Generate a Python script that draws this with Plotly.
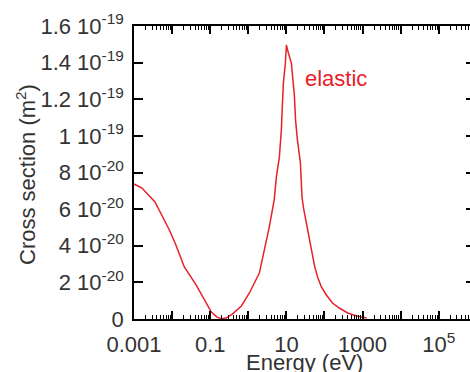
import plotly.graph_objects as go

# Data (energy in eV, cross section in 1e-20 m^2)
energy_eV = [0.001, 0.00162, 0.00355, 0.0083, 0.012, 0.0209, 0.0427, 0.0692, 0.107,
             0.151, 0.2, 0.263, 0.38, 0.66, 1.07, 1.95, 2.63, 3.55, 4.79, 5.46, 6.55,
             7.38, 7.85, 8.34, 9.42, 10.0, 11.3, 13.5, 16.2, 17.4, 19.5, 23.4, 24.5,
             25.7, 28.2, 55, 66, 83, 112, 162, 245, 407, 692, 1290]
sigma_1e20 = [7.37, 7.15, 6.39, 4.9, 4.15, 2.84, 1.86, 1.04, 0.38,
              0.1, 0.02, 0.05, 0.27, 0.71, 1.42, 2.51, 3.77, 5.02, 6.5, 7.75, 8.85,
              10.32, 11.68, 12.89, 13.98, 14.96, 14.52, 13.98, 12.23, 10.87, 9.77, 8.52, 7.59,
              6.66, 6.06, 2.89, 2.29, 1.75, 1.31, 0.87, 0.60, 0.33, 0.16, 0.05]
sigma = [s * 1e-20 for s in sigma_1e20]

x_tickvals = [1e-3, 1e-2, 1e-1, 1, 10, 100, 1e3, 1e4, 1e5, 1e6]
x_ticktext = ["0.001", "", "0.1", "", "10", "", "1000", "", "10<sup>5</sup>", ""]
y_tickvals = [0, 2e-20, 4e-20, 6e-20, 8e-20, 1e-19, 1.2e-19, 1.4e-19, 1.6e-19]
y_ticktext = ["0", "2 10<sup>-20</sup>", "4 10<sup>-20</sup>", "6 10<sup>-20</sup>",
              "8 10<sup>-20</sup>", "1 10<sup>-19</sup>", "1.2 10<sup>-19</sup>",
              "1.4 10<sup>-19</sup>", "1.6 10<sup>-19</sup>"]
minor_vals = [d * 10.0 ** k for k in range(-3, 6) for d in range(2, 10)]

RED = "#e8202a"
FONT = "Liberation Sans, Arial, sans-serif"
TXT = "#333333"

fig = go.Figure()
fig.add_trace(go.Scatter(x=energy_eV, y=sigma, mode="lines",
                         line=dict(color=RED, width=1.5), showlegend=False))
fig.add_trace(go.Scatter(x=[1], y=[0], yaxis="y2", mode="markers",
                         marker=dict(opacity=0), showlegend=False, hoverinfo="skip"))

fig.update_layout(
    width=470, height=372,
    margin=dict(l=134, r=0, t=26, b=53),
    paper_bgcolor="white", plot_bgcolor="white",
    font=dict(family=FONT, size=22, color=TXT),
    xaxis=dict(type="log", range=[-3, 5.82], showline=True, linecolor="black",
               linewidth=1.5, mirror="ticks", ticks="inside", ticklen=8,
               tickwidth=1.5, tickcolor="black", tickmode="array",
               tickvals=x_tickvals, ticktext=x_ticktext, showgrid=False,
               zeroline=False, ticklabelstandoff=5,
               minor=dict(ticks="inside", ticklen=4, tickwidth=1, tickcolor="black",
                          tickmode="array", tickvals=minor_vals, showgrid=False)),
    yaxis=dict(range=[0, 1.6e-19], showline=True, linecolor="black", linewidth=1.5,
               ticks="inside", ticklen=9, tickwidth=1.5, tickcolor="black",
               tickmode="array", tickvals=y_tickvals, ticktext=y_ticktext,
               showgrid=False, zeroline=False, ticklabelstandoff=4),
    yaxis2=dict(overlaying="y", side="right", matches="y", showline=False,
                ticks="inside", ticklen=4, tickwidth=1.5, tickcolor="black",
                tickmode="array", tickvals=y_tickvals, showticklabels=False,
                showgrid=False, zeroline=False),
    annotations=[
        dict(text="elastic", x=2.29, y=1.316e-19, xref="x", yref="y",
             xanchor="center", yanchor="middle",
             showarrow=False, font=dict(family=FONT, size=22, color=RED)),
        dict(text="Energy (eV)", x=(304 - 134) / 336, y=(319 - 362) / 293,
             xref="paper", yref="paper", xanchor="center", yanchor="middle",
             showarrow=False, font=dict(family=FONT, size=22, color=TXT)),
        dict(text="Cross section (m<sup>2</sup>)", x=(26 - 134) / 336, y=(319 - 174) / 293,
             xref="paper", yref="paper", xanchor="center", yanchor="middle",
             showarrow=False, textangle=-90,
             font=dict(family=FONT, size=22, color=TXT)),
    ],
)

fig.write_html("out.html")
